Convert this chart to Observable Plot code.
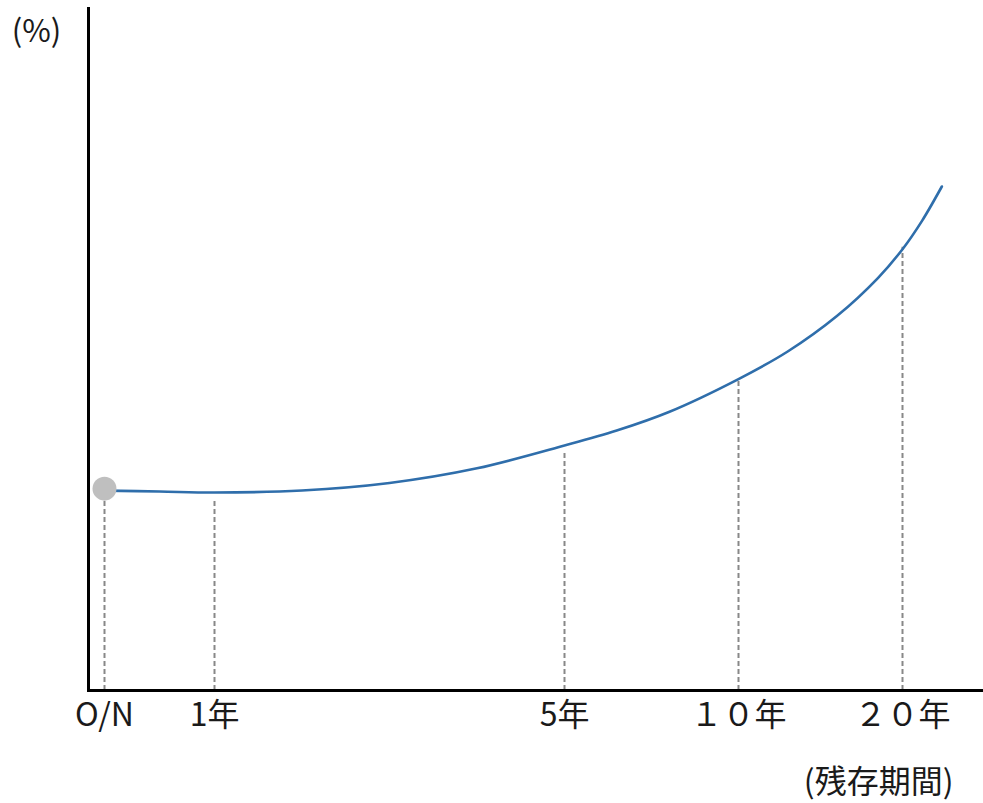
<!DOCTYPE html>
<html>
<head>
<meta charset="utf-8">
<script src="https://cdn.jsdelivr.net/npm/d3@7"></script>
<script src="https://cdn.jsdelivr.net/npm/@observablehq/plot@0.6"></script>
<style>
  html, body { margin: 0; padding: 0; background: #fff; }
  #chart svg { display: block; }
</style>
</head>
<body>
<div id="chart"></div>
<script>
// Tenors (years) and their tick labels
const tenorYears = [0, 1, 5, 10, 20];
const tenorLabels = ["O/N", "1年", "5年", "１０年", "２０年"];
// Top of the dashed guide at each tenor (%)
const guideTops = [2.79, 2.79, 3.48, 4.53, 6.50];

// Yield curve (conceptual), residual maturity in years vs yield (%)
const curveYears  = [0, 0.5, 1, 2, 3, 4, 5, 6.5, 8, 10, 13, 16, 18.5, 20, 21.2, 22.4];
const curveYields = [2.93, 2.918, 2.903, 2.933, 3.043, 3.258, 3.592, 3.812, 4.084, 4.567, 4.971, 5.491, 6.048, 6.47, 6.89, 7.39];

// Overnight rate point
const onYear = [0];
const onYield = [2.96];

const yUnit = "(%)";
const xUnit = "(残存期間)";

const curve = curveYears.map((t, i) => ({t, y: curveYields[i]}));
const guides = tenorYears.map((t, i) => ({t, top: guideTops[i]}));
const onPoint = onYear.map((t, i) => ({t, y: onYield[i]}));

const W = 983, H = 803;
const mL = 88, mR = 0, mT = 8, mB = 113;
// Conceptual (non-uniform) maturity axis: piecewise scale across tenor ticks
const tenorPos = [104, 214, 564, 738, 902];

const chart = Plot.plot({
  width: W,
  height: H,
  marginLeft: mL,
  marginRight: mR,
  marginTop: mT,
  marginBottom: mB,
  style: {fontFamily: "'Noto Sans CJK JP', 'Noto Sans', sans-serif", color: "#1a1a1a", background: "#fff"},
  x: {type: "linear", domain: tenorYears, range: tenorPos, axis: null},
  y: {domain: [0, 10], axis: null},
  marks: [
    Plot.ruleX(guides, {x: "t", y1: 0, y2: "top", stroke: "#888888", strokeWidth: 2, strokeDasharray: "5,3"}),
    Plot.line(curve, {x: "t", y: "y", stroke: "#2F6EAB", strokeWidth: 2.6, curve: "catmull-rom"}),
    Plot.dot(onPoint, {x: "t", y: "y", r: 12, fill: "#BFBFBF", stroke: null}),
    Plot.frame({anchor: "left", stroke: "#000", strokeWidth: 3}),
    Plot.frame({anchor: "bottom", stroke: "#000", strokeWidth: 3}),
    Plot.axisX({ticks: tenorYears, tickFormat: (d) => tenorLabels[tenorYears.indexOf(d)], tickSize: 0, tickPadding: 13, fontSize: 32, label: null}),
    Plot.text([yUnit], {frameAnchor: "top-left", dx: -52, dy: 24, fontSize: 31, textAnchor: "middle", lineAnchor: "middle"}),
    Plot.text([xUnit], {frameAnchor: "bottom-right", dx: -30, dy: 92, fontSize: 32, textAnchor: "end", lineAnchor: "middle"})
  ]
});
document.getElementById("chart").appendChild(chart);
</script>
</body>
</html>
